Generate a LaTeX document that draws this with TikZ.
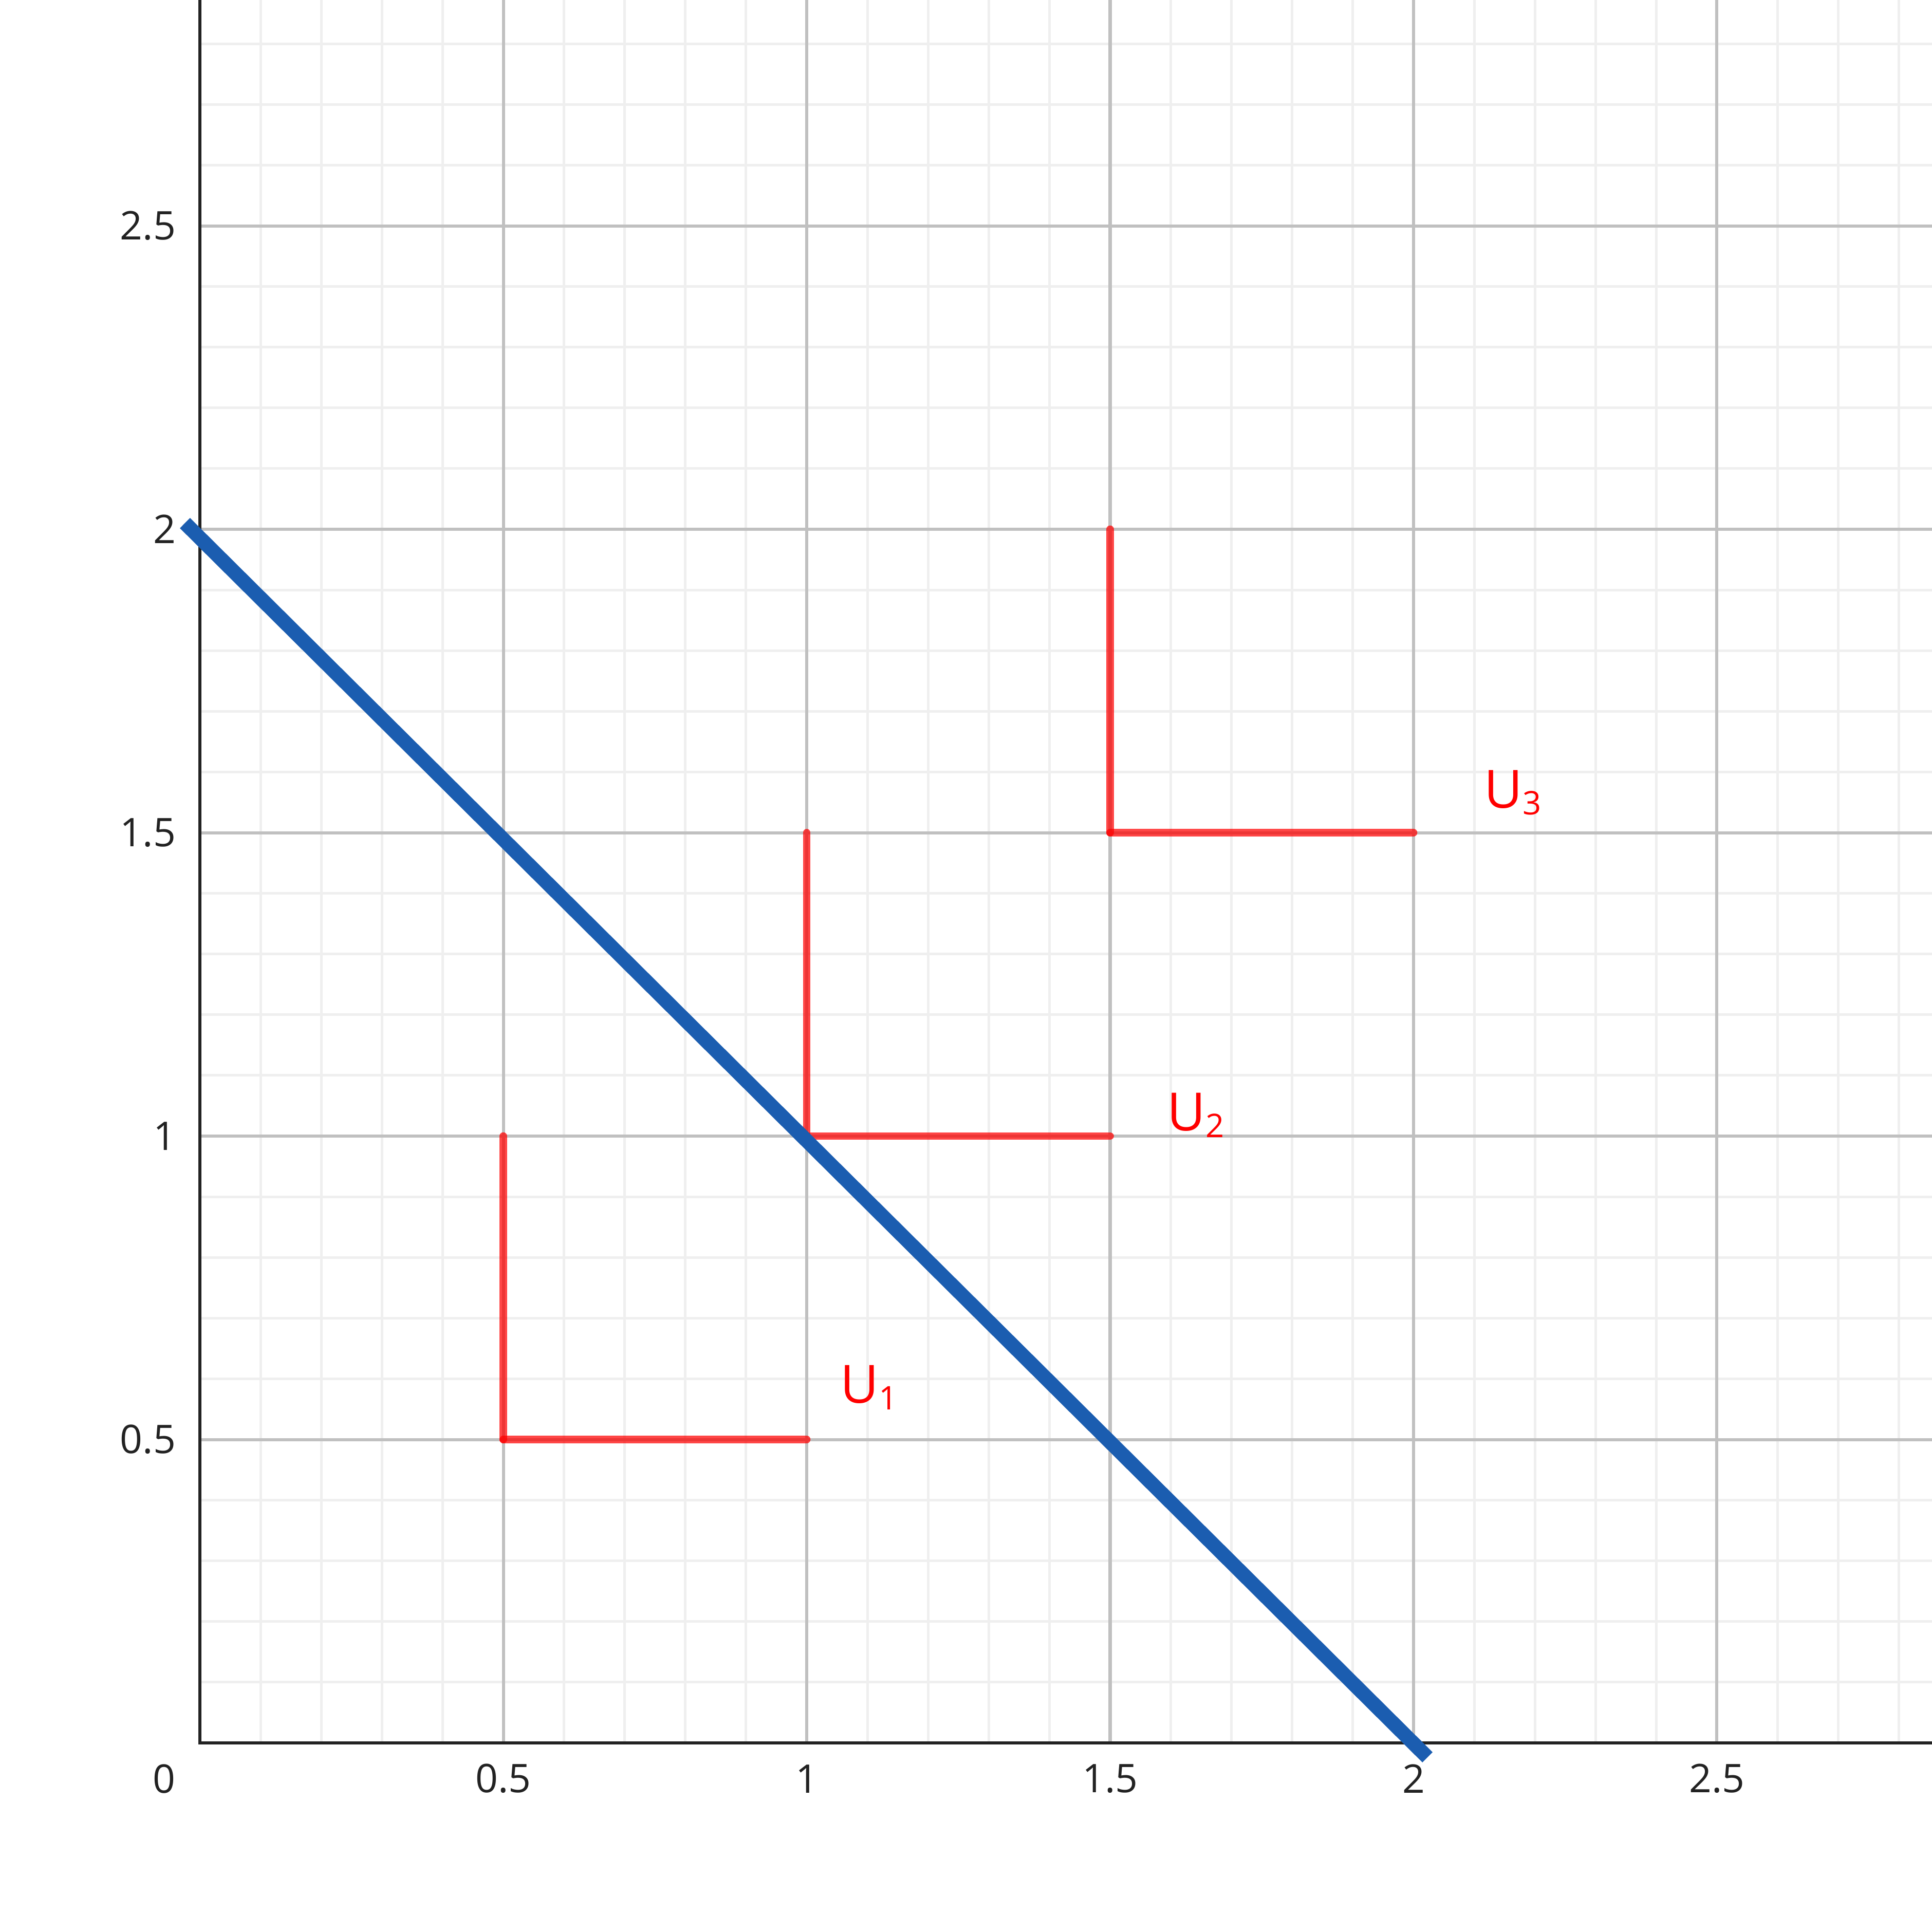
\documentclass[tikz,border=0pt]{standalone}
\usepackage{fontspec}
\setmainfont{Open Sans}
\definecolor{minorgrid}{RGB}{239,239,239}
\definecolor{majorgrid}{RGB}{192,192,192}
\definecolor{axiscol}{RGB}{34,34,34}
\definecolor{bluecol}{RGB}{27,93,176}
\definecolor{labelred}{RGB}{255,0,0}
\tikzset{
  minorline/.style={draw=minorgrid, line width=0.48pt},
  majorline/.style={draw=majorgrid, line width=0.58pt},
  axisline/.style={draw=axiscol, line width=0.58pt},
  redseg/.style={draw=labelred, draw opacity=0.72, line width=1.42pt, line cap=round},
  blueline/.style={draw=bluecol, line width=2.7pt},
  ticklab/.style={text=axiscol, inner sep=0pt, font=\fontsize{7.4pt}{9pt}\selectfont},
  ulab/.style={text=labelred, inner sep=0pt, anchor=base west, font=\fontsize{9.9pt}{12pt}\selectfont}
}
\newcommand{\usub}[1]{\raisebox{-1.25pt}{\fontsize{6.1pt}{7pt}\selectfont #1}}
\begin{document}
\begin{tikzpicture}[x=4cm,y=4cm]
\useasboundingbox (-0.3294,-0.3116) rectangle (2.8543,2.8722);
\fill[white] (-0.3294,-0.3116) rectangle (2.8543,2.8722);
% minor grid
\foreach \i in {1,...,28} {
  \draw[minorline] (\i/10,0) -- (\i/10,2.8722);
  \draw[minorline] (0,\i/10) -- (2.8543,\i/10);
}
% major grid
\foreach \v in {0.5,1,1.5,2,2.5} {
  \draw[majorline] (\v,0) -- (\v,2.8722);
  \draw[majorline] (0,\v) -- (2.8543,\v);
}
% axes
\draw[axisline] (0,2.8722) -- (0,0) -- (2.8543,0);
% tick labels
\node[ticklab] (x0) at (-0.059,-0.059) {0};
\foreach \v/\t in {0.5/0.5,1/1,1.5/1.5,2/2,2.5/2.5} {
  \node[ticklab] (xl\t) at (\v,-0.059) {\t};
  \node[ticklab, anchor=east] (yl\t) at (-0.038,\v) {\t};
}
% red L shapes
\coordinate (a1) at (0.5,1);   \coordinate (c1) at (0.5,0.5); \coordinate (b1) at (1,0.5);
\coordinate (a2) at (1,1.5);   \coordinate (c2) at (1,1);     \coordinate (b2) at (1.5,1);
\coordinate (a3) at (1.5,2);   \coordinate (c3) at (1.5,1.5); \coordinate (b3) at (2,1.5);
\foreach \k in {1,2,3} {
  \draw[redseg] (a\k) -- (c\k);
  \draw[redseg] (c\k) -- (b\k);
}
% blue line
\coordinate (p) at (-0.0246,2.0102);
\coordinate (q) at (2.023,-0.0237);
\draw[blueline] (p) -- (q);
% labels
\node[ulab] (u1) at (1.054,0.5605) {U\usub{1}};
\node[ulab] (u2) at (1.592,1.009) {U\usub{2}};
\node[ulab] (u3) at (2.115,1.541) {U\usub{3}};
\end{tikzpicture}
\end{document}
